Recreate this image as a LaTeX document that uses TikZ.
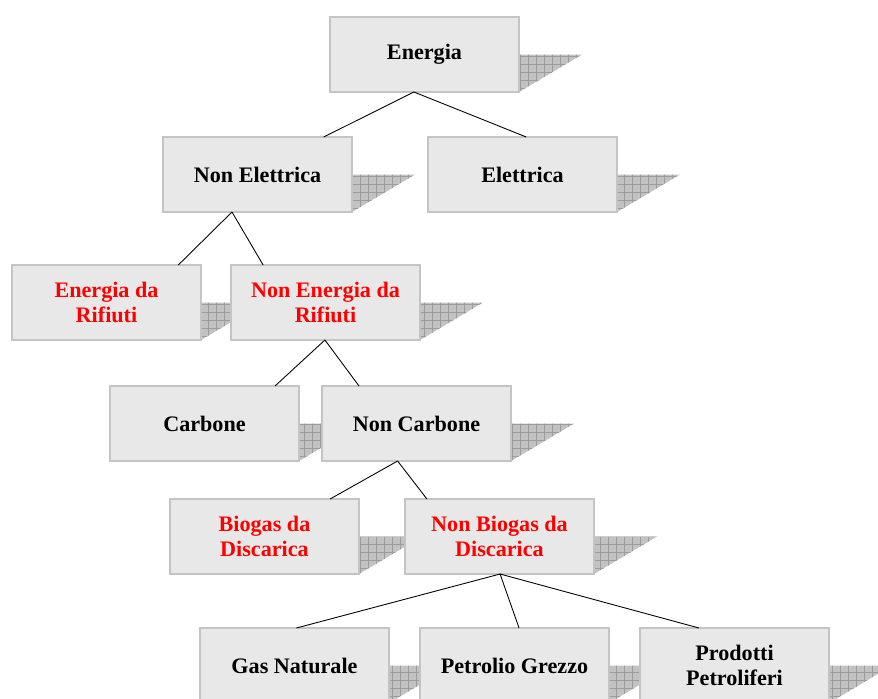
\documentclass[tikz,border=0pt]{standalone}
\usepackage{fontspec}
\setmainfont{Liberation Serif}
\usepackage{tikz}
\usetikzlibrary{positioning,calc}
\pgfdeclarelayer{bg}
\pgfsetlayers{bg,main}
\definecolor{boxfill}{HTML}{E8E8E8}
\definecolor{boxline}{HTML}{C4C4C4}
\definecolor{shadefill}{HTML}{C2C2C2}
\definecolor{shadegrid}{HTML}{9C9C9C}
\newcommand{\boxshade}[1]{%
  \begin{scope}
    \clip (#1.east) -- ++(1.26,0) -- (#1.south east) -- cycle;
    \fill[shadefill] ($(#1.south east)+(0,-0.05)$) rectangle ($(#1.east)+(1.3,0.05)$);
    \draw[shadegrid, line width=0.3pt, step=0.16] ($(#1.south east)+(-0.2,-0.2)$) grid ($(#1.east)+(1.5,0.2)$);
  \end{scope}}

\begin{document}
\begin{tikzpicture}[
  box/.style={draw=boxline, fill=boxfill, line width=0.6pt, align=center,
    font=\bfseries\fontsize{12.6}{14}\selectfont,
    minimum width=3.78cm, minimum height=1.5cm, inner sep=0pt, outer sep=0pt},
  redtxt/.style={text=red},
  link/.style={black, line width=0.5pt}
]
\useasboundingbox (0,0) rectangle (17.56,-13.96);
\node[box] (energia) at (8.49,-1.09) {Energia};
\node[box, below=0.9cm of energia, xshift=-3.34cm] (nonelet) {Non Elettrica};
\node[box, right=1.52cm of nonelet] (elet) {Elettrica};
\node[box, redtxt, below=1.06cm of nonelet, xshift=-3.02cm] (rifiuti) {Energia da\\Rifiuti};
\node[box, redtxt, right=0.6cm of rifiuti] (nonrif) {Non Energia da\\Rifiuti};
\node[box, below=0.92cm of nonrif, xshift=-2.42cm] (carbone) {Carbone};
\node[box, right=0.46cm of carbone] (noncarb) {Non Carbone};
\node[box, redtxt, below=0.76cm of noncarb, xshift=-3.04cm] (biogas) {Biogas da\\Discarica};
\node[box, redtxt, right=0.92cm of biogas] (nonbio) {Non Biogas da\\Discarica};
\node[box, below=1.08cm of nonbio, xshift=-4.1cm] (gas) {Gas Naturale};
\node[box, right=0.62cm of gas] (petrolio) {Petrolio Grezzo};
\node[box, right=0.62cm of petrolio] (prodotti) {Prodotti\\Petroliferi};

% shadows behind the boxes
\begin{pgfonlayer}{bg}
\foreach \n in {energia,nonelet,elet,rifiuti,nonrif,carbone,noncarb,biogas,nonbio,gas,petrolio,prodotti}
  {\boxshade{\n}}
\end{pgfonlayer}

% tree links
\draw[link] ($(energia.south west)!0.444!(energia.south east)$) -- ($(nonelet.north west)!0.85!(nonelet.north east)$);
\draw[link] ($(energia.south west)!0.444!(energia.south east)$) -- ($(elet.north west)!0.52!(elet.north east)$);
\draw[link] ($(nonelet.south west)!0.365!(nonelet.south east)$) -- ($(rifiuti.north west)!0.88!(rifiuti.north east)$);
\draw[link] ($(nonelet.south west)!0.365!(nonelet.south east)$) -- ($(nonrif.north west)!0.17!(nonrif.north east)$);
\draw[link] ($(nonrif.south west)!0.497!(nonrif.south east)$) -- ($(carbone.north west)!0.873!(carbone.north east)$);
\draw[link] ($(nonrif.south west)!0.497!(nonrif.south east)$) -- ($(noncarb.north west)!0.196!(noncarb.north east)$);
\draw[link] ($(noncarb.south west)!0.40!(noncarb.south east)$) -- ($(biogas.north west)!0.847!(biogas.north east)$);
\draw[link] ($(noncarb.south west)!0.40!(noncarb.south east)$) -- ($(nonbio.north west)!0.116!(nonbio.north east)$);
\draw[link] ($(nonbio.south west)!0.503!(nonbio.south east)$) -- ($(gas.north west)!0.51!(gas.north east)$);
\draw[link] ($(nonbio.south west)!0.503!(nonbio.south east)$) -- ($(petrolio.north west)!0.524!(petrolio.north east)$);
\draw[link] ($(nonbio.south west)!0.503!(nonbio.south east)$) -- ($(prodotti.north west)!0.312!(prodotti.north east)$);
\end{tikzpicture}
\end{document}
